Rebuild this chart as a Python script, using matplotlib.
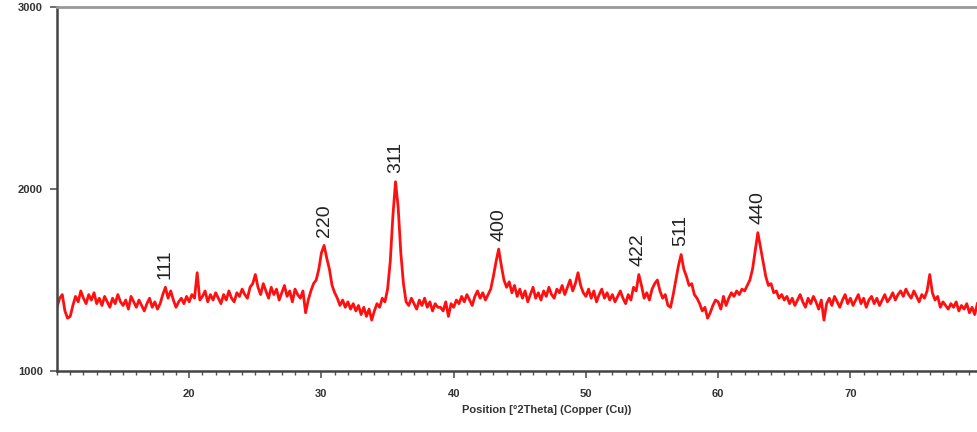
import numpy as np
import matplotlib
matplotlib.use("Agg")
from matplotlib import pyplot as plt
from matplotlib.ticker import MultipleLocator

# XRD scan, counts every 0.2 deg 2theta starting at 10.0
START = 10.0
STEP = 0.2
counts = [
    # 10.0 - 14.8
    1350, 1400, 1420, 1330, 1290, 1300, 1360, 1410, 1380, 1440, 1400, 1370, 1420,
    1390, 1430, 1370, 1400, 1360, 1410, 1380, 1350, 1400, 1370, 1420, 1380,
    # 15.0 - 19.8
    1360, 1390, 1340, 1410, 1380, 1350, 1390, 1360, 1330, 1370, 1400, 1350, 1380,
    1340, 1370, 1420, 1460, 1400, 1440, 1390, 1350, 1380, 1400, 1370, 1410,
    # 20.0 - 24.8
    1380, 1420, 1400, 1540, 1390, 1410, 1440, 1380, 1420, 1390, 1430, 1400, 1370,
    1420, 1390, 1440, 1400, 1380, 1430, 1410, 1450, 1420, 1400, 1460, 1480,
    # 25.0 - 29.8
    1530, 1460, 1420, 1480, 1440, 1400, 1460, 1420, 1450, 1390, 1430, 1470, 1410,
    1440, 1380, 1450, 1420, 1400, 1440, 1320, 1390, 1440, 1480, 1500, 1560,
    # 30.0 - 34.8
    1650, 1690, 1620, 1560, 1470, 1430, 1400, 1360, 1390, 1350, 1380, 1340, 1370,
    1330, 1360, 1310, 1350, 1300, 1340, 1280, 1330, 1370, 1350, 1400, 1380,
    # 35.0 - 39.8
    1450, 1600, 1850, 2040, 1900, 1650, 1480, 1380, 1360, 1400, 1370, 1340, 1390,
    1360, 1400, 1350, 1380, 1330, 1370, 1350, 1350, 1330, 1380, 1300, 1370,
    # 40.0 - 44.8
    1350, 1390, 1370, 1410, 1380, 1420, 1390, 1360, 1410, 1440, 1400, 1430, 1390,
    1420, 1450, 1520, 1600, 1670, 1580, 1500, 1460, 1490, 1430, 1470, 1410,
    # 45.0 - 49.8
    1450, 1400, 1440, 1380, 1420, 1460, 1400, 1430, 1390, 1440, 1410, 1460, 1420,
    1400, 1450, 1430, 1470, 1420, 1460, 1500, 1440, 1480, 1540, 1470, 1430,
    # 50.0 - 54.8
    1410, 1450, 1400, 1440, 1380, 1420, 1450, 1400, 1430, 1390, 1420, 1380, 1410,
    1440, 1400, 1370, 1420, 1390, 1460, 1440, 1530, 1470, 1400, 1430, 1390,
    # 55.0 - 59.8
    1450, 1480, 1500, 1440, 1400, 1420, 1360, 1350, 1420, 1500, 1580, 1640, 1560,
    1520, 1470, 1480, 1420, 1400, 1370, 1330, 1350, 1290, 1320, 1360, 1390,
    # 60.0 - 64.8
    1380, 1340, 1410, 1360, 1400, 1430, 1410, 1440, 1420, 1450, 1440, 1470, 1500,
    1560, 1660, 1760, 1680, 1600, 1520, 1470, 1480, 1430, 1440, 1400, 1420,
    # 65.0 - 69.8
    1390, 1410, 1370, 1400, 1360, 1390, 1420, 1380, 1350, 1400, 1370, 1410, 1380,
    1340, 1390, 1280, 1370, 1400, 1360, 1410, 1380, 1350, 1390, 1420, 1370,
    # 70.0 - 74.8
    1400, 1360, 1390, 1420, 1370, 1400, 1350, 1390, 1410, 1370, 1400, 1360, 1390,
    1420, 1380, 1400, 1430, 1390, 1420, 1440, 1410, 1450, 1420, 1400, 1440,
    # 75.0 - 79.6
    1410, 1380, 1420, 1400, 1440, 1530, 1430, 1390, 1410, 1350, 1380, 1360, 1340,
    1370, 1350, 1380, 1330, 1360, 1340, 1370, 1320, 1350, 1310, 1370,
]
two_theta = START + STEP * np.arange(len(counts))

# indexed reflections
peak_pos = [18.2, 30.2, 35.6, 43.4, 53.9, 57.2, 63.0]
peak_hkl = ["111", "220", "311", "400", "422", "511", "440"]

fig = plt.figure(figsize=(9.78, 4.32), dpi=100)
ax = fig.add_axes([57 / 978, 1 - 371 / 432, 1 - 57 / 978, 364 / 432])

ax.plot(two_theta, counts, color="#ff1010", lw=2.0)

for pos, hkl in zip(peak_pos, peak_hkl):
    near = np.abs(two_theta - pos) <= 0.3
    top = np.max(np.array(counts)[near])
    ax.annotate(hkl, (pos, top), xytext=(0, 6), textcoords="offset points",
                rotation=90, ha="center", va="bottom", fontsize=14,
                color="#222222", family="Liberation Sans")

ax.set_xlim(10.0, 79.65)
ax.set_ylim(1000, 3000)
ax.set_yticks([1000, 2000, 3000])
ax.set_xticks([20, 30, 40, 50, 60, 70])
ax.xaxis.set_minor_locator(MultipleLocator(1))

for s in ["left", "bottom"]:
    ax.spines[s].set_color("#444444")
    ax.spines[s].set_linewidth(1.8)
ax.spines["top"].set_color("#999999")
ax.spines["top"].set_linewidth(2)
ax.spines["right"].set_visible(False)

ax.tick_params(axis="both", which="major", direction="out", length=5,
               width=1.2, color="#555555", labelsize=8)
ax.tick_params(axis="x", which="major", pad=8)
ax.tick_params(axis="y", which="major", pad=5)
ax.tick_params(axis="x", which="minor", direction="out", length=3,
               width=1, color="#555555")
for lab in ax.get_xticklabels() + ax.get_yticklabels():
    lab.set_family("Liberation Sans")
    lab.set_fontweight("bold")
    lab.set_color("#333333")

ax.set_xlabel("Position [°2Theta] (Copper (Cu))", fontsize=8, fontweight="bold",
              family="Liberation Sans", color="#333333")
ax.xaxis.set_label_coords((547 - 57) / 921, -0.093)

fig.savefig("out.png", dpi=100)
